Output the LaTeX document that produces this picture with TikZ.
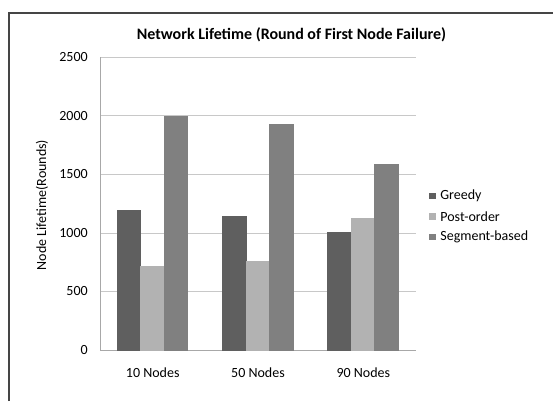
\documentclass[tikz,border=0pt]{standalone}
\usepackage{fontspec}
\setmainfont{Carlito}
\usetikzlibrary{positioning}

\definecolor{greedyc}{HTML}{5F5F5F}
\definecolor{postc}{HTML}{B2B2B2}
\definecolor{segc}{HTML}{808080}
\definecolor{gridc}{HTML}{C8C8C8}
\definecolor{axisc}{HTML}{A8A8A8}
\definecolor{framec}{HTML}{454545}

\begin{document}
\begin{tikzpicture}[x=0.75pt, y=-0.75pt
        , every node/.style={font=\fontsize{10.5}{12}\selectfont, inner sep=0pt}
        , bar/.style={draw=white!80!black, line width=0.3pt}
        , legsq/.style={minimum size=5pt, inner sep=0pt}
    ]
    \useasboundingbox (0,0) rectangle (553,401);

    % frame runs off at the right and the bottom
    \draw[framec, line width=1.5pt] (9,401) -- (9,13) -- (553,13);

    \node (title) at (291.5,35) {\fontsize{12}{14}\selectfont\bfseries Network Lifetime (Round of First Node Failure)};

    % grid and value axis
    \foreach \v in {500,1000,...,2500} {
        \draw[gridc, line width=0.6pt] (100,{350-0.1171*\v}) -- (416,{350-0.1171*\v});
    }
    \foreach \v in {0,500,...,2500} {
        \node[anchor=east] (tick\v) at (88,{350-0.1171*\v}) {\v};
    }
    \draw[axisc, line width=0.6pt] (100,57.3) -- (100,350) -- (416,350);

    \node[rotate=90] (ylabel) at (42,205) {Node Lifetime(Rounds)};

    % bars: group / greedy / post-order / segment-based
    \foreach \g/\n/\a/\b/\c in {0/10/1190/715/2000, 1/50/1142/757/1927, 2/90/1010/1125/1586} {
        \fill[bar, greedyc] ({117+105.3*\g},350) rectangle ++(23.5,{-0.1171*\a});
        \fill[bar, postc] ({140.5+105.3*\g},350) rectangle ++(23.5,{-0.1171*\b});
        \fill[bar, segc] ({164+105.3*\g},350) rectangle ++(23.5,{-0.1171*\c});
        \node (cat\n) at ({152.7+105.3*\g},373) {\n{} Nodes};
    }

    % legend
    \node[legsq, fill=greedyc] (sqG) at (432.5,196) {};
    \node[legsq, fill=postc] (sqP) at (432.5,216.5) {};
    \node[legsq, fill=segc] (sqS) at (432.5,237) {};
    \node[right=3pt of sqG] (legG) {Greedy};
    \node[right=3pt of sqP] (legP) {Post-order};
    \node[right=3pt of sqS] (legS) {Segment-based};
\end{tikzpicture}
\end{document}
